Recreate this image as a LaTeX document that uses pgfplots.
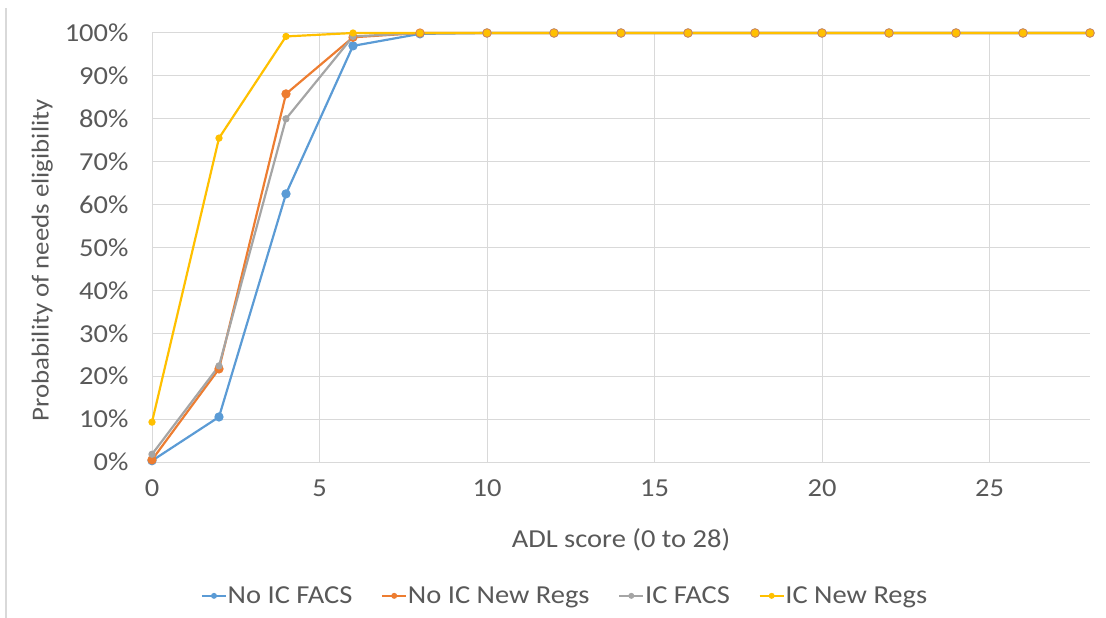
\documentclass[border=0pt]{standalone}
\usepackage{pgfplots}
\pgfplotsset{compat=1.18}
\usepackage{fontspec}
\setmainfont{Carlito}[FakeStretch=1.1]
\definecolor{cblue}{HTML}{5B9BD5}
\definecolor{corange}{HTML}{ED7D31}
\definecolor{cgray}{HTML}{A5A5A5}
\definecolor{cyellow}{HTML}{FFC000}
\definecolor{gridc}{HTML}{D9D9D9}
\definecolor{txt}{HTML}{595959}
\begin{document}
\begin{tikzpicture}
\path[use as bounding box] (-152bp,-156bp) rectangle (954bp,462bp);
\draw[gridc, line width=1.5pt] (-146bp,-156bp) -- (-146bp,454bp);
\begin{axis}[
  at={(0,0)}, anchor=south west,
  scale only axis, width=938bp, height=429bp,
  xmin=0, xmax=28, ymin=0, ymax=100,
  xtick={0,5,...,25}, ytick={0,10,...,100},
  grid=major, major grid style={gridc, line width=1pt},
  axis x line*=bottom, axis y line*=left,
  axis line style={gridc, line width=1pt, -},
  major tick length=0,
  /pgf/number format/assume math mode=true,
  yticklabel={\pgfmathprintnumber{\tick}\%},
  ticklabel style={font=\fontsize{26}{30}\selectfont, text=txt},
  xticklabel style={yshift=-14bp},
  yticklabel style={xshift=-20bp},
  xlabel={ADL score (0 to 28)},
  ylabel={Probability of needs eligibility},
  xlabel style={font=\fontsize{26}{30}\selectfont, text=txt, at={(axis description cs:0.5,-0.182)}, anchor=center},
  ylabel style={font=\fontsize{24.5}{29}\selectfont, text=txt, at={(axis description cs:-0.117,0.47)}, anchor=center},
  legend columns=4,
  legend style={at={(axis description cs:0.44,-0.312)}, anchor=center, draw=none,
    font=\fontsize{26}{30}\selectfont, text=txt, inner sep=0pt,
    nodes={inner sep=1bp},
    /tikz/every even column/.append style={column sep=28bp}},
  legend cell align=left,
  legend image code/.code={\draw[#1, line width=1.5pt, mark size=2.2pt, mark repeat=2, mark phase=2] plot coordinates {(0bp,0bp) (12bp,0bp) (24bp,0bp)};},
  clip=false,
]
\addplot[cblue, line width=2.2pt, mark=*, mark size=3.5pt] coordinates {
(0,0.3) (2,10.5) (4,62.5) (6,97) (8,99.8) (10,100) (12,100) (14,100) (16,100) (18,100) (20,100) (22,100) (24,100) (26,100) (28,100)};
\addlegendentry{No IC FACS}
\addplot[corange, line width=2.2pt, mark=*, mark size=3.5pt] coordinates {
(0,0.5) (2,21.7) (4,85.8) (6,99) (8,100) (10,100) (12,100) (14,100) (16,100) (18,100) (20,100) (22,100) (24,100) (26,100) (28,100)};
\addlegendentry{No IC New Regs}
\addplot[cgray, line width=2.2pt, mark=*, mark size=2.5pt] coordinates {
(0,1.8) (2,22.4) (4,80) (6,99.2) (8,100) (10,100) (12,100) (14,100) (16,100) (18,100) (20,100) (22,100) (24,100) (26,100) (28,100)};
\addlegendentry{IC FACS}
\addplot[cyellow, line width=2.2pt, mark=*, mark size=2.5pt] coordinates {
(0,9.3) (2,75.5) (4,99.2) (6,100) (8,100) (10,100) (12,100) (14,100) (16,100) (18,100) (20,100) (22,100) (24,100) (26,100) (28,100)};
\addlegendentry{IC New Regs}
\end{axis}
\end{tikzpicture}
\end{document}
